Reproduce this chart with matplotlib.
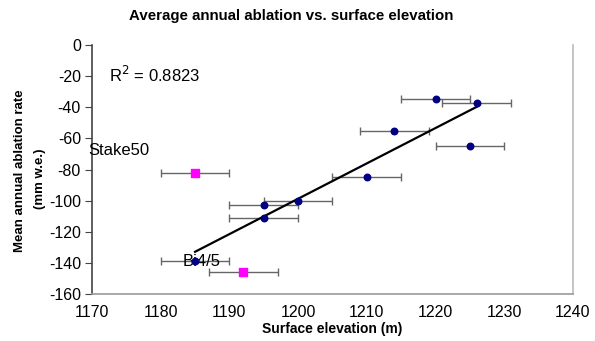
import numpy as np
import matplotlib
matplotlib.use("Agg")
import matplotlib.pyplot as plt

plt.rcParams['font.family'] = ['Liberation Sans', 'DejaVu Sans']
plt.rcParams['axes.unicode_minus'] = False

# Blue stakes (used in the regression)
blue_x = [1185, 1195, 1195, 1200, 1210, 1214, 1220, 1225, 1226]
blue_y = [-139, -103, -111, -100, -85, -55, -35, -65, -37]
blue_xerr = [5, 5, 5, 5, 5, 5, 5, 5, 5]

# Magenta outliers
mag_x = [1185, 1192]
mag_y = [-82, -146]
mag_xerr = [5, 5]

r2_text = "R$^2$ = 0.8823"
xticks = [1170, 1180, 1190, 1200, 1210, 1220, 1230, 1240]
yticks = [0, -20, -40, -60, -80, -100, -120, -140, -160]

fig = plt.figure(figsize=(5.95, 3.41), dpi=100)
W, H = 595, 341
l, r, t, b = 92, 573, 45, 294
ax = fig.add_axes([l / W, 1 - b / H, (r - l) / W, (b - t) / H])

ecol = '#666666'
ax.errorbar(blue_x, blue_y, xerr=blue_xerr, fmt='none', ecolor=ecol,
            elinewidth=1.0, capsize=3, capthick=1.0, zorder=2)
ax.errorbar(mag_x, mag_y, xerr=mag_xerr, fmt='none', ecolor=ecol,
            elinewidth=1.0, capsize=3, capthick=1.0, zorder=2)

# Linear trendline from the blue points
coef = np.polyfit(blue_x, blue_y, 1)
xs = np.array([min(blue_x), max(blue_x)])
ax.plot(xs, np.polyval(coef, xs), color='black', lw=1.6, zorder=3)

ax.scatter(blue_x, blue_y, marker='o', s=22, color='#000080', zorder=4)
ax.scatter(mag_x, mag_y, marker='s', s=30, color='#FF00FF', zorder=4)

ax.set_xlim(1170, 1240)
ax.set_ylim(-160, 0)
ax.set_xticks(xticks)
ax.set_yticks(yticks)
ax.tick_params(axis='x', length=0, pad=8, labelsize=11.5)
ax.tick_params(axis='y', length=5, direction='out', pad=3, labelsize=11.5,
               color='#444444')

ax.spines['top'].set_visible(False)
ax.spines['left'].set_color('#444444')
ax.spines['bottom'].set_color('#999999')
ax.spines['right'].set_color('#bbbbbb')
for s in ax.spines.values():
    s.set_linewidth(1.2)

ax.text(1172.5, -19, r2_text, fontsize=12, va='center', ha='left')
ax.text(1169.4, -67.5, "Stake50", fontsize=12, va='center', ha='left', clip_on=False)
ax.text(1183.2, -139, "Bi4/5", fontsize=12, va='center', ha='left')

fig.text(0.49, 0.953, "Average annual ablation vs. surface elevation",
         fontsize=10.8, fontweight='bold', ha='center', va='center')
fig.text(332 / W, 1 - 329 / H, "Surface elevation (m)", fontsize=10,
         fontweight='bold', ha='center', va='center')
fig.text(20 / W, 1 - 171 / H, "Mean annual ablation rate", fontsize=9.5,
         fontweight='bold', rotation=90, ha='center', va='center')
fig.text(40 / W, 1 - 179 / H, "(mm w.e.)", fontsize=9.5,
         fontweight='bold', rotation=90, ha='center', va='center')

fig.savefig("out.png", dpi=100)
